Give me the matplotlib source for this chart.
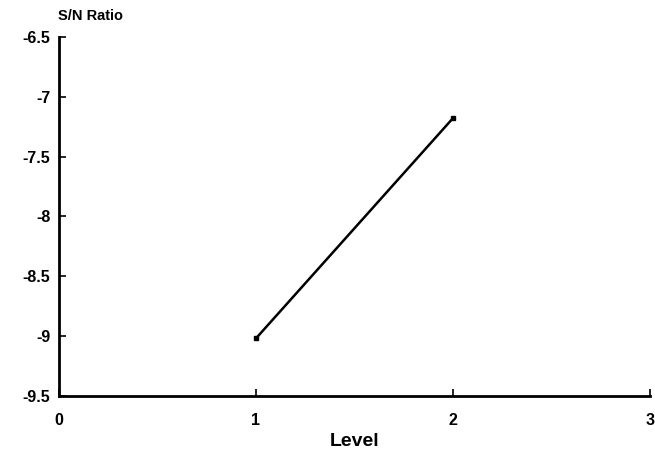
import numpy as np
import matplotlib
matplotlib.use('Agg')
import matplotlib.pyplot as plt

# S/N ratio against factor level
levels = [1, 2]
sn_ratio = [-9.02, -7.18]
xticks = [0, 1, 2, 3]
yticks = [-9.5, -9, -8.5, -8, -7.5, -7, -6.5]
ytick_labels = ['-9.5', '-9', '-8.5', '-8', '-7.5', '-7', '-6.5']

plt.rcParams['font.family'] = 'Liberation Sans'
plt.rcParams['font.weight'] = 'bold'

fig = plt.figure(figsize=(6.55, 4.62), dpi=100)
ax = fig.add_axes([0.090, 0.143, 0.902, 0.777])

ax.plot(levels, sn_ratio, '-', color='k', lw=1.8, marker='s', ms=3.5)

ax.set_xlim(0, 3)
ax.set_ylim(-9.5, -6.5)
ax.set_xticks(xticks)
ax.set_yticks(yticks)
ax.set_yticklabels(ytick_labels)
ax.tick_params(direction='in', length=5, width=1.2, labelsize=11.5)
ax.tick_params(axis='x', pad=12)
ax.tick_params(axis='y', pad=6)
for lab in ax.get_xticklabels() + ax.get_yticklabels():
    lab.set_fontweight('bold')

ax.spines['top'].set_visible(False)
ax.spines['right'].set_visible(False)
ax.spines['left'].set_linewidth(2)
ax.spines['bottom'].set_linewidth(2)

ax.set_xlabel('Level', fontsize=14, fontweight='bold', labelpad=4)
fig.text(0.088, 0.95, 'S/N Ratio', fontsize=10.5, fontweight='bold', ha='left', va='bottom')

fig.savefig('out.png', dpi=100)
